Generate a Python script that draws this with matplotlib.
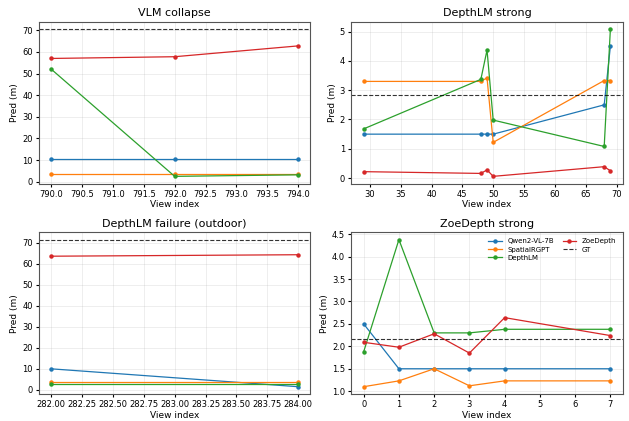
import numpy as np
import matplotlib.pyplot as plt

models = ["Qwen2-VL-7B", "SpatialRGPT", "DepthLM", "ZoeDepth"]
colors = ["tab:blue", "tab:orange", "tab:green", "tab:red"]

# VLM collapse
x1 = [790, 792, 794]
y1 = {
    "Qwen2-VL-7B": [10.5, 10.5, 10.5],
    "SpatialRGPT": [3.8, 3.8, 3.8],
    "DepthLM": [52.0, 2.5, 3.2],
    "ZoeDepth": [57.0, 57.8, 62.8],
}
gt1 = 70.5

# DepthLM strong
x2 = [29, 48, 49, 50, 68, 69]
y2 = {
    "Qwen2-VL-7B": [1.5, 1.5, 1.5, 1.5, 2.5, 4.5],
    "SpatialRGPT": [3.3, 3.3, 3.42, 1.22, 3.33, 3.33],
    "DepthLM": [1.68, 3.37, 4.37, 1.98, 1.08, 5.08],
    "ZoeDepth": [0.22, 0.16, 0.28, 0.06, 0.39, 0.25],
}
gt2 = 2.82

# DepthLM failure (outdoor)
x3 = [282, 284]
y3 = {
    "Qwen2-VL-7B": [10.0, 1.5],
    "SpatialRGPT": [3.5, 3.5],
    "DepthLM": [2.8, 2.8],
    "ZoeDepth": [63.6, 64.3],
}
gt3 = 71.5

# ZoeDepth strong
x4 = [0, 1, 2, 3, 4, 7]
y4 = {
    "Qwen2-VL-7B": [2.5, 1.5, 1.5, 1.5, 1.5, 1.5],
    "SpatialRGPT": [1.1, 1.23, 1.5, 1.12, 1.23, 1.23],
    "DepthLM": [1.88, 4.38, 2.3, 2.3, 2.38, 2.38],
    "ZoeDepth": [2.09, 1.98, 2.28, 1.85, 2.64, 2.24],
}
gt4 = 2.17

panels = [
    ("VLM collapse", x1, y1, gt1),
    ("DepthLM strong", x2, y2, gt2),
    ("DepthLM failure (outdoor)", x3, y3, gt3),
    ("ZoeDepth strong", x4, y4, gt4),
]

fig, axes = plt.subplots(2, 2, figsize=(6.29, 4.21), dpi=100)
fig.subplots_adjust(left=0.062, right=0.99, top=0.948, bottom=0.064,
                    wspace=0.151, hspace=0.30)

for ax, (title, x, ys, gt) in zip(axes.flat, panels):
    for m, c in zip(models, colors):
        ax.plot(x, ys[m], marker="o", ms=2.2, lw=0.9, color=c, label=m)
    ax.axhline(gt, color="k", ls="--", lw=0.8, alpha=0.8, label="GT")
    ax.set_title(title, fontsize=8, pad=4)
    ax.set_xlabel("View index", fontsize=6.5, labelpad=1)
    ax.set_ylabel("Pred (m)", fontsize=6.5, labelpad=2)
    ax.tick_params(labelsize=6, length=2.5, pad=2)
    ax.grid(True, alpha=0.3, lw=0.5)
    for s in ax.spines.values():
        s.set_color("#555555")

axes[1, 1].legend(fontsize=5, ncol=2, frameon=False, loc="upper right",
                  handlelength=2, columnspacing=1.2, labelspacing=0.3)

fig.savefig("out.png")
